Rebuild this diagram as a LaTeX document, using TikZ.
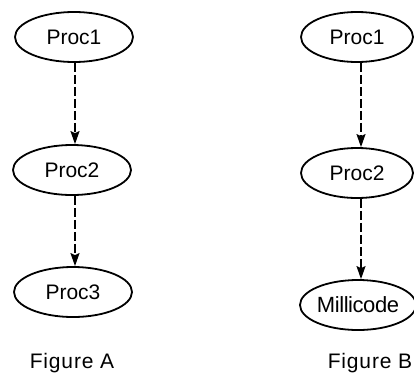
\documentclass[tikz,border=0pt]{standalone}
\usepackage{fontspec}
\setmainfont{Liberation Sans}
\usetikzlibrary{shapes.geometric,arrows.meta}
\begin{document}
\begin{tikzpicture}[x=1pt,y=-1pt,
  proc/.style={ellipse,draw,line width=1.8pt,inner sep=0pt,minimum width=118pt,minimum height=50pt,font=\fontsize{21}{24}\selectfont},
  flow/.style={draw,line width=1.4pt,dash pattern=on 9pt off 3pt,-{Stealth[length=13pt,width=9pt,inset=2pt]}},
  figcap/.style={font=\fontsize{21}{24}\selectfont\addfontfeatures{LetterSpace=4}}]
\useasboundingbox (0,0) rectangle (414,383);
\node[proc] (a1) at (74,37) {Proc1};
\node[proc] (a2) at (72,170) {Proc2};
\node[proc] (a3) at (73,292) {Proc3};
\node[figcap] (fa) at (72,363) {Figure A};
\node[proc,minimum width=112pt] (b1) at (357,37) {Proc1};
\node[proc,minimum width=112pt] (b2) at (357,173) {Proc2};
\node[proc,minimum width=110pt,font=\fontsize{22}{24}\selectfont\addfontfeatures{LetterSpace=-2}] (b3) at (358,305) {Millicode};
\node[figcap] (fb) at (370,363) {Figure B};
\coordinate (ax) at (75,0);
\coordinate (bx) at (361,0);
\draw[flow] (a1.south -| ax) -- (a2.north -| ax);
\draw[flow] (a2.south -| ax) -- (a3.north -| ax);
\draw[flow] (b1.south -| bx) -- (b2.north -| bx);
\draw[flow] (b2.south -| bx) -- (b3.north -| bx);
\end{tikzpicture}
\end{document}
